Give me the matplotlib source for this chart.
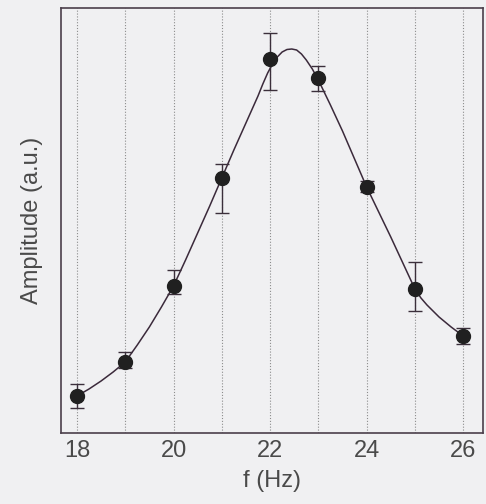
import numpy as np
import matplotlib.pyplot as plt

# measured points (f in Hz, amplitude in a.u.)
freq = [18, 19, 20, 21, 22, 23, 24, 25, 26]
amp = [37, 71, 147, 255, 374, 355, 246, 144, 97]
err_up = [12, 10, 16, 14, 26, 12, 6, 27, 8]
err_down = [12, 6, 8, 35, 31, 13, 5, 22, 8]

# fitted curve
fit_f = [18, 18.25, 18.5, 18.75, 19, 19.25, 19.5, 19.75, 20, 20.25, 20.5, 20.75,
         21, 21.25, 21.5, 21.75, 21.85, 21.95, 22.05, 22.15, 22.25, 22.35, 22.45,
         22.55, 22.65, 22.75, 22.875, 23, 23.25, 23.5, 23.75, 24, 24.25, 24.5,
         24.75, 25, 25.125, 25.25, 25.5, 25.75, 26]
fit_a = [37, 44, 52, 61, 71, 88, 106, 126, 147, 173, 200, 227,
         255, 283, 310, 337, 349, 360, 369, 376, 381, 383.5, 384,
         383, 379, 373, 364, 353, 328, 302, 274, 246, 221, 196,
         170, 144, 135, 128, 116, 106, 97]

xticks = [18, 20, 22, 24, 26]

bg = '#f0f0f2'
frame = '#4b3f4b'
text_c = '#4a4a4a'

plt.rcParams['font.family'] = ['Liberation Sans', 'DejaVu Sans']

fig = plt.figure(figsize=(4.86, 5.04), dpi=100, facecolor=bg)
ax = fig.add_axes([61/486, 71/504, 422/486, 425/504])
ax.set_facecolor(bg)

for f in range(18, 27):
    ax.axvline(f, color='#8c8c8c', linestyle=(0, (1, 1.6)), linewidth=0.8, zorder=0)

ax.plot(fit_f, fit_a, color='#3b2a3b', linewidth=1.1, zorder=2)
ax.errorbar(freq, amp, yerr=[err_down, err_up], fmt='o', color='#202020',
            ecolor='#3b2f3b', elinewidth=1.0, capsize=5, capthick=1.0,
            markersize=10, zorder=3)

ax.set_xlim(17.67, 26.41)
ax.set_ylim(0, 425)
ax.set_xticks(xticks)
ax.set_yticks([])
ax.tick_params(axis='x', length=0, pad=5, labelsize=17, labelcolor=text_c)
for s in ax.spines.values():
    s.set_color(frame)
    s.set_linewidth(1.2)

ax.set_xlabel('f (Hz)', fontsize=17, color=text_c, labelpad=6)
ax.set_ylabel('Amplitude (a.u.)', fontsize=17, color=text_c, labelpad=13)

fig.savefig('out.png', dpi=100, facecolor=bg)
